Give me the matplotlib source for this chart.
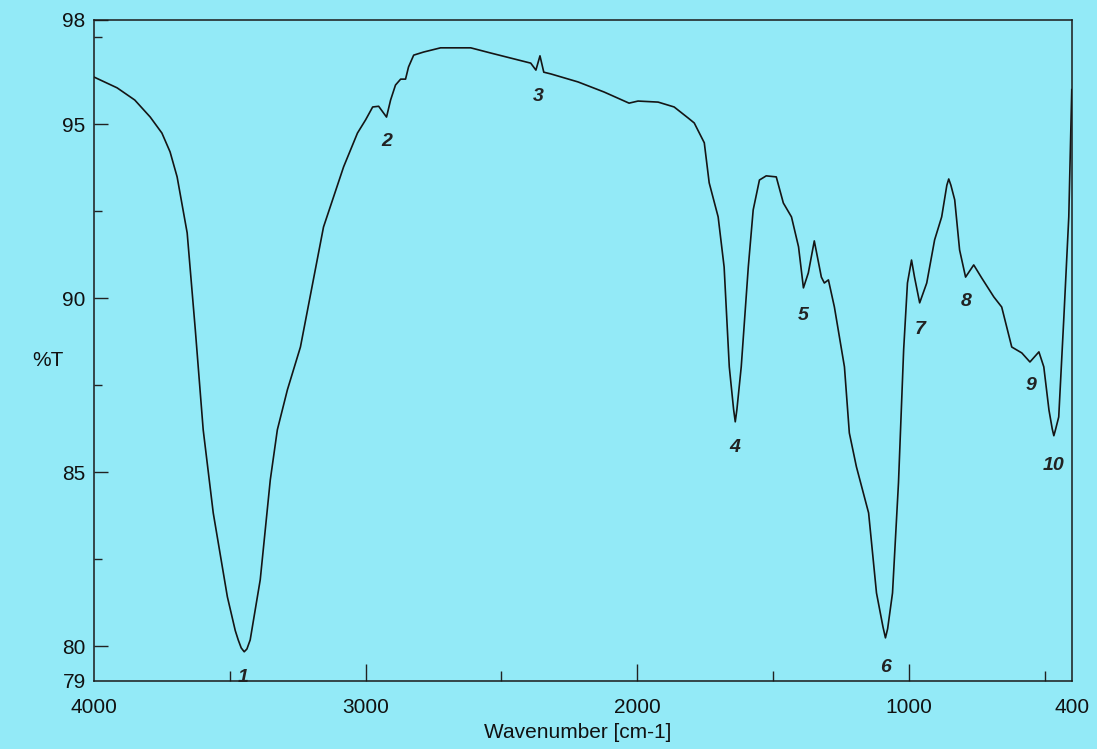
#!/usr/bin/env python3
"""FT-IR transmittance spectrum with numbered absorption bands."""

import matplotlib.pyplot as plt
from matplotlib.ticker import FixedLocator

# Spectrum (wavenumber in cm-1, %T)
WAVENUMBER = [
    4000, 3915, 3850, 3793, 3750, 3720, 3694, 3657, 3627, 3598, 3561, 3509,
    3480, 3469, 3458, 3447, 3437, 3425, 3388, 3351, 3325, 3288, 3240, 3155,
    3081, 3030, 3000, 2974, 2952, 2923, 2908, 2890, 2871, 2853, 2842, 2823,
    2786, 2724, 2613, 2539, 2392, 2373, 2358, 2344, 2318, 2218, 2122, 2030,
    1997, 1923, 1864, 1812, 1790, 1753, 1735, 1702, 1680, 1661, 1645, 1639,
    1633, 1617, 1591, 1573, 1550, 1525, 1488, 1462, 1432, 1406, 1388, 1370,
    1348, 1322, 1311, 1296, 1274, 1237, 1219, 1193, 1148, 1119, 1095, 1086,
    1078, 1060, 1038, 1019, 1005, 990, 979, 960, 934, 905, 879, 860, 853,
    845, 831, 813, 791, 761, 732, 687, 658, 621, 584, 554, 521, 503, 484,
    472, 466, 460, 448, 429, 411, 400,
]
TRANSMITTANCE = [
    96.36, 96.05, 95.70, 95.21, 94.75, 94.21, 93.49, 91.88, 89.09, 86.22,
    83.83, 81.42, 80.45, 80.18, 79.95, 79.84, 79.92, 80.18, 81.91, 84.78,
    86.22, 87.37, 88.60, 92.05, 93.78, 94.75, 95.13, 95.50, 95.52, 95.21,
    95.70, 96.13, 96.30, 96.30, 96.65, 96.99, 97.08, 97.20, 97.20, 97.05,
    96.76, 96.56, 96.97, 96.50, 96.45, 96.22, 95.93, 95.61, 95.67, 95.64,
    95.50, 95.18, 95.04, 94.47, 93.32, 92.34, 90.90, 88.03, 86.80, 86.45,
    86.80, 88.03, 90.90, 92.54, 93.40, 93.52, 93.49, 92.74, 92.34, 91.48,
    90.30, 90.73, 91.65, 90.61, 90.44, 90.53, 89.75, 88.03, 86.13, 85.16,
    83.83, 81.53, 80.55, 80.24, 80.50, 81.53, 84.70, 88.52, 90.44, 91.10,
    90.61, 89.87, 90.44, 91.68, 92.34, 93.25, 93.43, 93.25, 92.83, 91.39,
    90.61, 90.96, 90.59, 90.04, 89.75, 88.60, 88.43, 88.17, 88.46, 88.03,
    86.79, 86.25, 86.05, 86.22, 86.59, 89.47, 92.34, 96.00,
]

# Band numbers and where they are printed
BAND_LABELS = ["1", "2", "3", "4", "5", "6", "7", "8", "9", "10"]
BAND_X = [3450, 2923, 2366, 1639, 1388, 1086, 960, 787, 550, 466]
BAND_Y = [79.1, 94.5, 95.8, 85.7, 89.5, 79.4, 89.1, 89.9, 87.5, 85.2]

X_TICKS = [4000, 3000, 2000, 1000, 400]
X_MINOR = [3500, 2500, 1500, 500]
Y_TICKS = [79, 80, 85, 90, 95, 98]
Y_MINOR = [82.5, 87.5, 92.5, 97.5]

BG = "#93eaf7"

plt.rcParams["font.family"] = ["Liberation Sans", "DejaVu Sans"]

fig = plt.figure(figsize=(10.97, 7.49), dpi=100, facecolor=BG)
ax = fig.add_axes([0.0857, 0.0908, 0.8913, 0.8825], facecolor=BG)

ax.plot(WAVENUMBER, TRANSMITTANCE, color="#151515", linewidth=1.2,
        solid_joinstyle="round")

for lab, x, y in zip(BAND_LABELS, BAND_X, BAND_Y):
    ax.text(x, y, lab, ha="center", va="center", fontsize=14,
            fontweight="bold", fontstyle="italic", color="#222222")

ax.set_xlim(4000, 400)
ax.set_ylim(79, 98)

ax.xaxis.set_major_locator(FixedLocator(X_TICKS))
ax.xaxis.set_minor_locator(FixedLocator(X_MINOR))
ax.yaxis.set_major_locator(FixedLocator(Y_TICKS))
ax.yaxis.set_minor_locator(FixedLocator(Y_MINOR))
ax.set_xticklabels([str(t) for t in X_TICKS])
ax.set_yticklabels([str(t) for t in Y_TICKS])

ax.tick_params(axis="both", which="both", direction="in", color="#222222",
               labelsize=15, labelcolor="#111111")
ax.tick_params(axis="x", which="major", length=12, width=1.0, pad=12)
ax.tick_params(axis="x", which="minor", length=7, width=1.0)
ax.tick_params(axis="y", which="major", length=10, width=1.0, pad=6)
ax.tick_params(axis="y", which="minor", length=6, width=1.0)
# end ticks sit on the frame corners in the scan
ax.xaxis.get_major_ticks()[0].tick1line.set_visible(False)
ax.xaxis.get_major_ticks()[-1].tick1line.set_visible(False)
ax.yaxis.get_major_ticks()[0].tick1line.set_visible(False)

for side in ax.spines.values():
    side.set_color("#1a1a1a")
    side.set_linewidth(1.1)

fig.text(48 / 1097, 1 - 360 / 749, "%T", ha="center", va="center",
         fontsize=15, color="#111111")
fig.text(578 / 1097, 1 - 733 / 749, "Wavenumber [cm-1]", ha="center",
         va="center", fontsize=15, color="#111111")

fig.savefig("out.png", dpi=100, facecolor=BG)
